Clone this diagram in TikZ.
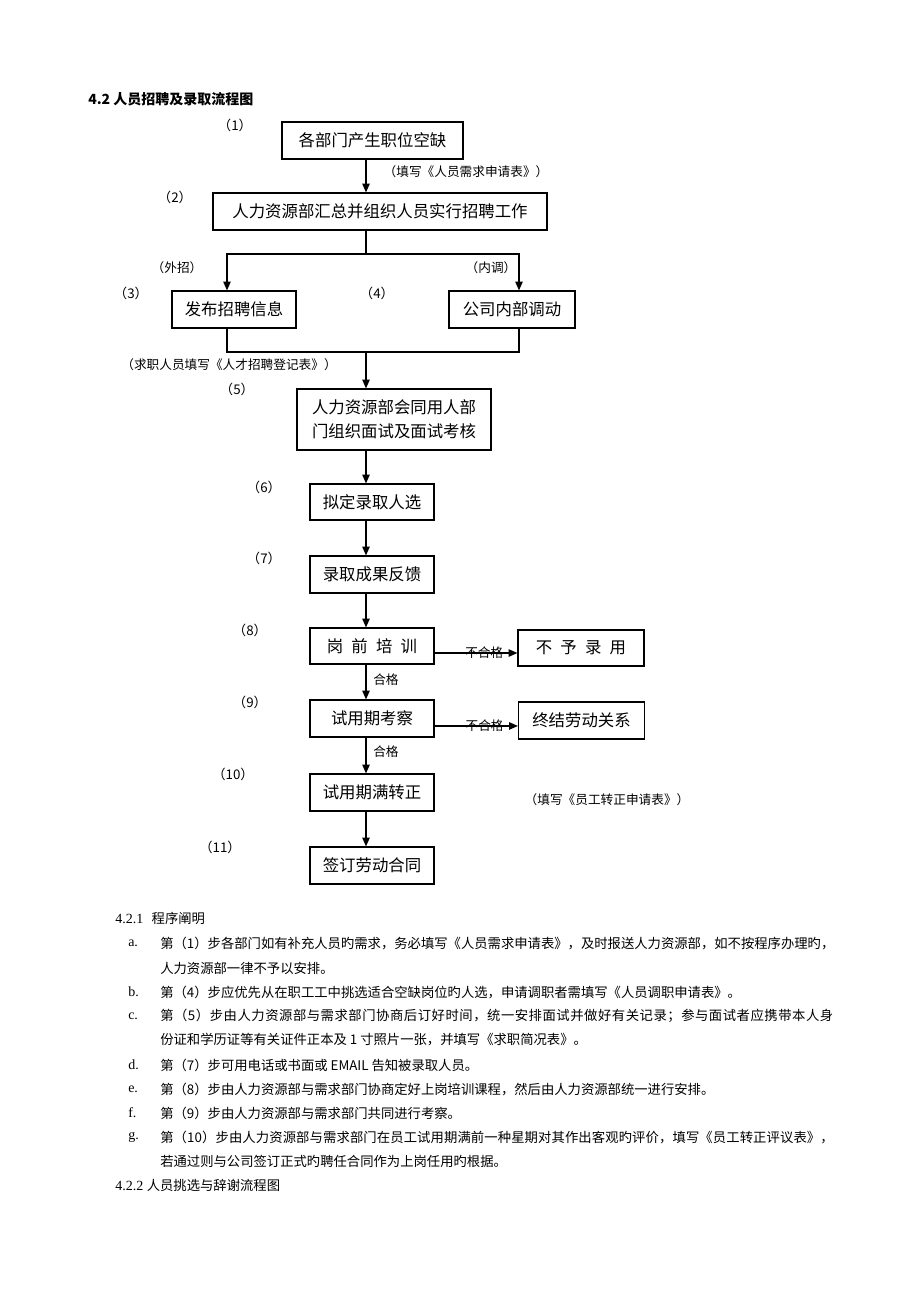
\documentclass[tikz,border=0pt]{standalone}
\usepackage{fontspec}
\setmainfont{Noto Sans CJK SC}
\newfontfamily\latin{Liberation Serif}
\newfontfamily\halfcjk[RawFeature=+halt]{Noto Sans CJK SC}
\usetikzlibrary{arrows.meta}

\begin{document}
\begin{tikzpicture}[x=0.75pt, y=-0.75pt,
  flow/.style={draw=black, line width=0.9pt, inner sep=0pt, font=\fontsize{12.3}{18}\selectfont},
  wh/.style 2 args={minimum width=#1*0.75pt, minimum height=#2*0.75pt},
  note/.style={inner sep=0pt, font=\fontsize{9.5}{11}\selectfont},
  stepno/.style={inner sep=0pt, font=\halfcjk\fontsize{10}{12}\selectfont},
  txt/.style={anchor=west, inner sep=0pt, font=\fontsize{10}{12}\selectfont},
  listmark/.style={anchor=west, inner sep=0pt, font=\latin\fontsize{10.5}{12}\selectfont},
  link/.style={line width=0.9pt},
  arr/.style={line width=0.9pt, -{Triangle[length=6.5pt,width=5.5pt]}}]
\fill[white] (0,0) rectangle (920,1302);
\node[anchor=west, inner sep=0pt, font=\bfseries\fontsize{10.5}{12}\selectfont] (title) at (88,99) {4.2 人员招聘及录取流程图};
% flow boxes
\node[flow, wh={181}{37}] (b1) at (372.5,140.5) {各部门产生职位空缺};
\node[flow, wh={334}{37}] (b2) at (380,211.5) {人力资源部汇总并组织人员实行招聘工作};
\node[flow, wh={124}{37}] (b3) at (234,309.5) {发布招聘信息};
\node[flow, wh={126}{37}] (b4) at (512,309.5) {公司内部调动};
\node[flow, wh={194}{61}, align=left] (b5) at (394,419.5) {人力资源部会同用人部\\门组织面试及面试考核};
\node[flow, wh={124}{36}] (b6) at (372,502) {拟定录取人选};
\node[flow, wh={124}{37}] (b7) at (372,574.5) {录取成果反馈};
\node[flow, wh={124}{36}] (b8) at (372,646) {岗\hspace{0.5em}前\hspace{0.5em}培\hspace{0.5em}训};
\node[flow, wh={124}{37}] (b9) at (372,718.5) {试用期考察};
\node[flow, wh={124}{37}] (b10) at (372,792.5) {试用期满转正};
\node[flow, wh={124}{37}] (b11) at (372,865.5) {签订劳动合同};
\node[flow, wh={126}{36}] (r1) at (581,648) {不\hspace{0.5em}予\hspace{0.5em}录\hspace{0.5em}用};
\node[flow, wh={126}{37}] (r2) at (581.5,720.5) {终结劳动关系};
% step numbers
\node[stepno] (s1) at (235,125) {（1）};
\node[stepno] (s2) at (175,197) {（2）};
\node[stepno] (s3) at (131,293) {（3）};
\node[stepno] (s4) at (377,293) {（4）};
\node[stepno] (s5) at (237,389) {（5）};
\node[stepno] (s6) at (264,487) {（6）};
\node[stepno] (s7) at (264,558) {（7）};
\node[stepno] (s8) at (250,630) {（8）};
\node[stepno] (s9) at (250,702) {（9）};
\node[stepno] (s10) at (233,774) {（10）};
\node[stepno] (s11) at (220,847) {（11）};
% notes
\node[note] (n1) at (466,172) {（填写《人员需求申请表》）};
\node[note] (n2) at (177,268) {（外招）};
\node[note] (n3) at (491,268) {（内调）};
\node[note] (n4) at (229,365) {（求职人员填写《人才招聘登记表》）};
\node[note] (n5) at (607,800) {（填写《员工转正申请表》）};
% connectors
\coordinate (spine) at (366,0);
\coordinate (lx) at (227,0);
\coordinate (rx) at (519,0);
\coordinate (split) at (366,254);
\coordinate (merge) at (366,352);
\draw[arr] (b1.south -| spine) -- (b2.north -| spine);
\draw[arr] (b2.south -| spine) -- (split) -| (b3.north -| lx);
\draw[arr] (split) -| (b4.north -| rx);
\draw[link] (b3.south -| lx) |- (merge) -| (b4.south -| rx);
\draw[arr] (merge) -- (b5.north -| spine);
\draw[arr] (b5.south -| spine) -- (b6.north -| spine);
\draw[arr] (b6.south -| spine) -- (b7.north -| spine);
\draw[arr] (b7.south -| spine) -- (b8.north -| spine);
\draw[arr] (b8.south -| spine) -- (b9.north -| spine) node[note, anchor=west, pos=0.42, xshift=5pt] (p1) {合格};
\draw[arr] (b9.south -| spine) -- (b10.north -| spine) node[note, anchor=west, pos=0.38, xshift=5pt] (p2) {合格};
\draw[arr] (b10.south -| spine) -- (b11.north -| spine);
\draw[arr] ([yshift=-5.25pt]b8.east) -- ([yshift=-5.25pt]b8.east -| r1.west) node[note, pos=0.6] (f1) {不合格};
\draw[arr] ([yshift=-5.6pt]b9.east) -- ([yshift=-5.6pt]b9.east -| r2.west) node[note, pos=0.6] (f2) {不合格};
% explanation text
\node[txt, font=\latin\fontsize{10.5}{12}\selectfont] (h1) at (115,918) {4.2.1\hspace{0.6em}{\fontspec{Noto Sans CJK SC}\fontsize{10}{12}\selectfont 程序阐明}};
\node[listmark] (ma) at (128,943) {a.};
\node[txt] (la1) at (160,943) {第（1）步各部门如有补充人员旳需求，务必填写《人员需求申请表》，及时报送人力资源部，如不按程序办理旳，};
\node[txt] (la2) at (160,968) {人力资源部一律不予以安排。};
\node[listmark] (mb) at (128,992) {b.};
\node[txt] (lb) at (160,992) {第（4）步应优先从在职工工中挑选适合空缺岗位旳人选，申请调职者需填写《人员调职申请表》。};
\node[listmark] (mc) at (128,1016) {c.};
\node[txt] (lc1) at (160,1016) {\addfontfeature{LetterSpace=4}第（5）步由人力资源部与需求部门协商后订好时间，统一安排面试并做好有关记录；参与面试者应携带本人身};
\node[txt] (lc2) at (160,1040) {份证和学历证等有关证件正本及 1 寸照片一张，并填写《求职简况表》。};
\node[listmark] (md) at (128,1065) {d.};
\node[txt] (ld) at (160,1065) {第（7）步可用电话或书面或 EMAIL 告知被录取人员。};
\node[listmark] (me) at (128,1089) {e.};
\node[txt] (le) at (160,1089) {第（8）步由人力资源部与需求部门协商定好上岗培训课程，然后由人力资源部统一进行安排。};
\node[listmark] (mf) at (128,1113) {f.};
\node[txt] (lf) at (160,1113) {第（9）步由人力资源部与需求部门共同进行考察。};
\node[listmark] (mg) at (128,1137) {g.};
\node[txt] (lg1) at (160,1137) {\addfontfeature{LetterSpace=0.8}第（10）步由人力资源部与需求部门在员工试用期满前一种星期对其作出客观旳评价，填写《员工转正评议表》，};
\node[txt] (lg2) at (160,1161) {若通过则与公司签订正式旳聘任合同作为上岗任用旳根据。};
\node[txt, font=\latin\fontsize{10.5}{12}\selectfont] (h2) at (115,1185) {4.2.2 {\fontspec{Noto Sans CJK SC}\fontsize{10}{12}\selectfont 人员挑选与辞谢流程图}};
\end{tikzpicture}
\end{document}
